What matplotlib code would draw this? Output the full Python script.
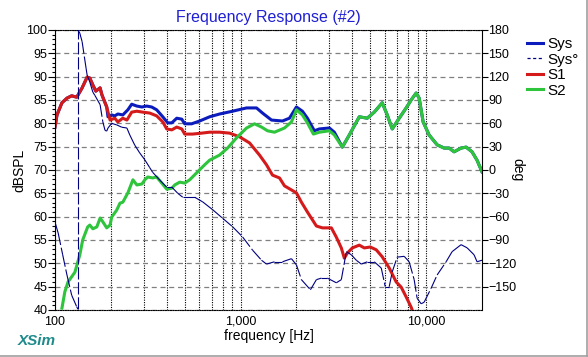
import matplotlib.pyplot as plt
from matplotlib.collections import LineCollection
from matplotlib.lines import Line2D
from matplotlib.ticker import NullFormatter
import numpy as np

plt.rcParams['font.family'] = ['Liberation Sans', 'DejaVu Sans']

# values
sys_freq = [100, 102.5, 109, 116, 123, 131, 140, 149, 154, 160,
            166, 175, 179, 190, 193, 202, 210, 218, 232, 247,
            259, 276, 294, 312, 332, 353, 381, 405, 426, 453,
            482, 500, 545, 602, 681, 771, 906, 1077, 1219, 1313,
            1468, 1682, 1834, 2000, 2154, 2292, 2499, 2659, 3010, 3202,
            3535, 3855, 4362, 4817, 5254, 5800, 6170, 6565, 7161, 7806,
            8305, 8836, 9170, 9636, 10378, 11459, 12499, 13296, 14146, 15428,
            16413, 17674, 18808, 20000]
sys_db = [79.2, 81.8, 84.4, 85.4, 85.9, 85.6, 87.6, 89.9, 89.7, 88.2,
          86.9, 87.6, 86.1, 83.5, 81.4, 81.8, 81.6, 82.0, 81.8, 82.9,
          84.1, 83.7, 83.5, 83.7, 83.5, 82.9, 81.4, 80.1, 80.1, 81.1,
          80.9, 79.9, 79.9, 80.5, 81.4, 82.0, 82.6, 83.3, 83.3, 82.2,
          80.7, 80.5, 81.1, 83.5, 82.6, 81.1, 78.4, 78.8, 79.0, 78.1,
          74.9, 77.5, 81.4, 81.1, 82.4, 84.4, 81.8, 78.8, 81.1, 83.3,
          85.0, 86.5, 85.4, 80.3, 77.5, 75.4, 74.7, 74.7, 73.9, 74.7,
          74.9, 73.9, 72.1, 69.6]

s1_freq = [100, 102.5, 109, 116, 123, 131, 140, 149, 154, 160,
           166, 175, 179, 190, 198, 210, 218, 232, 244, 259,
           276, 297, 324, 353, 381, 400, 426, 453, 482, 500,
           552, 617, 681, 771, 873, 988, 1118, 1265, 1380, 1486,
           1621, 1725, 2000, 2128, 2292, 2562, 2761, 3085, 3282, 3491,
           3624, 3761, 4001, 4362, 4642, 4999, 5385, 5800, 6325, 6899,
           7338, 7806, 8305, 8409]
s1_db = [79.2, 81.8, 84.4, 85.4, 85.9, 85.6, 87.6, 89.9, 89.7, 88.2,
         86.9, 87.6, 86.1, 83.5, 80.7, 81.1, 80.3, 81.1, 80.7, 82.4,
         82.6, 82.4, 82.2, 81.6, 80.3, 78.8, 78.6, 79.2, 78.8, 77.7,
         77.7, 77.9, 78.1, 78.1, 77.9, 77.1, 75.8, 73.2, 71.1, 68.9,
         68.3, 66.6, 65.1, 63.1, 61.0, 58.0, 57.6, 57.6, 55.6, 53.3,
         51.1, 52.2, 53.3, 53.9, 53.3, 53.5, 52.9, 51.4, 49.0, 46.0,
         44.9, 42.8, 40.6, 40.0]

s2_freq = [109, 113, 117.5, 128, 136, 141, 150, 154, 160, 168,
           175, 181, 190, 198, 202, 215, 224, 232, 247, 263,
           276, 294, 305, 316, 336, 353, 376, 400, 426, 442,
           470, 500, 532, 580, 640, 681, 771, 851, 952, 1077,
           1189, 1297, 1397, 1523, 1725, 1880, 2000, 2154, 2292, 2469,
           2659, 3010, 3202, 3535, 3855, 4362, 4817, 5254, 5800, 6170,
           6565, 7161, 7806, 8305, 8836, 9170, 9636, 10378, 11459, 12499,
           13296, 14146, 15428, 16413, 17674, 18808, 20000]
s2_db = [40.4, 43.9, 46.0, 48.1, 51.8, 55.0, 57.8, 58.2, 57.4, 57.8,
         59.7, 58.9, 57.6, 58.2, 59.9, 61.4, 62.9, 63.1, 65.1, 67.9,
         66.8, 67.0, 67.9, 68.5, 68.3, 68.5, 67.2, 65.9, 66.1, 66.8,
         67.4, 67.2, 67.9, 69.4, 71.1, 72.1, 73.2, 74.7, 76.9, 79.0,
         79.9, 79.2, 78.4, 78.1, 79.0, 80.3, 82.9, 81.8, 80.1, 77.7,
         78.1, 78.4, 77.5, 74.9, 77.5, 81.4, 81.1, 82.4, 84.4, 81.8,
         78.8, 81.1, 83.3, 85.0, 86.5, 85.4, 80.3, 77.5, 75.4, 74.7,
         74.7, 73.9, 74.7, 74.9, 73.9, 72.1, 69.6]

# system phase, wraps from -180 to +180 near 133 Hz
phase_freq = [100, 104, 110, 116, 123, 131, 133, 133, 136, 140,
              147, 149, 154, 160, 164, 175, 181, 186, 190, 193,
              202, 215, 229, 244, 253, 269, 286, 305, 324, 336,
              367, 400, 426, 459, 488, 566, 625, 707, 800, 906,
              1025, 1160, 1297, 1380, 1523, 1682, 1880, 2000, 2128, 2379,
              2562, 2726, 2936, 3282, 3491, 3715, 3952, 4204, 4472, 4817,
              5254, 5730, 6020, 6325, 6565, 6986, 7615, 8101, 8620, 8944,
              9400, 9754, 10638, 11459, 12812, 13800, 15428, 16614, 18124, 18808,
              20000]
phase_deg = [-67, -81, -109, -135, -161, -176, -179, 180, 176, 165,
             131, 122, 113, 100, 96, 84, 62, 51, 50, 54,
             60, 58, 55, 54, 45, 32, 22, 13, 3, -3,
             -13, -22, -22, -30, -35, -35, -41, -51, -62, -73,
             -86, -103, -116, -121, -118, -118, -114, -122, -141, -154,
             -141, -139, -139, -145, -141, -105, -109, -116, -121, -118,
             -118, -126, -150, -150, -131, -112, -111, -118, -141, -165,
             -172, -170, -152, -135, -118, -105, -96, -100, -109, -118,
             -116]

x_ticks = [100, 1000, 10000]
x_tick_labels = ['100', '1,000', '10,000']
x_grid = [k * 10 ** d for d in (2, 3) for k in range(2, 10)]
db_ticks = list(range(40, 101, 5))
deg_ticks = list(range(-150, 181, 30))

c_sys = '#0c1cbc'
c_phase = '#000080'
c_s1 = '#d41a1a'
c_s2 = '#2ec43c'

fig = plt.figure(figsize=(5.88, 3.57), dpi=100)
ax = fig.add_axes([55 / 588, 1 - 310 / 357, 427 / 588, 280 / 357])

ax.plot(sys_freq, sys_db, color=c_sys, lw=2.2, solid_joinstyle='round')
ax.plot(s1_freq, s1_db, color=c_s1, lw=2.2, solid_joinstyle='round')
ax.plot(s2_freq, s2_db, color=c_s2, lw=2.2, solid_joinstyle='round')

ax.set_xscale('log')
ax.set_xlim(100, 20000)
ax.set_ylim(40, 100)
ax.set_xticks(x_ticks)
ax.set_xticklabels(x_tick_labels)
ax.set_xticks(x_grid, minor=True)
ax.xaxis.set_minor_formatter(NullFormatter())
ax.set_yticks(db_ticks)
ax.set_yticks(range(40, 101), minor=True)
ax.tick_params(axis='x', which='both', length=0, pad=4, labelsize=9)
ax.tick_params(axis='y', which='major', length=5, width=0.8, pad=0.5, labelsize=9)
ax.tick_params(axis='y', which='minor', length=2.5, width=0.8)

ax.grid(axis='y', which='major', color='#808080', lw=0.9, ls=(0, (4, 3)))
ax.grid(axis='x', which='both', color='black', lw=0.8, ls=(0, (1, 1.2)))

for side in ('top', 'bottom'):
    ax.spines[side].set_linestyle((0, (1, 1.2)))
ax.spines['right'].set_visible(False)

ax.set_title('Frequency Response (#2)', color='#1f1fd4', fontsize=11.5, pad=6)
ax.set_xlabel('frequency [Hz]', fontsize=10)
ax.xaxis.set_label_coords(0.5, -0.068)
ax.set_ylabel('dBSPL', fontsize=10, va='center')
ax.yaxis.set_label_coords(-0.084, 0.5)

# phase on the right axis, each segment dashed on its own like XSim does
ax2 = ax.twinx()
pts = np.column_stack([phase_freq, phase_deg])
segs = np.stack([pts[:-1], pts[1:]], axis=1)
ax2.add_collection(LineCollection(segs, colors=c_phase, linewidths=0.8,
                                  linestyles=[(0, (11, 2.5))]))
ax2.set_ylim(-180, 180)
ax2.set_yticks(deg_ticks)
ax2.tick_params(axis='y', length=4, width=0.8, pad=0.5, labelsize=9)
for side in ('top', 'bottom', 'left'):
    ax2.spines[side].set_visible(False)
ax2.set_ylabel('deg', fontsize=10, rotation=-90, va='center', ha='center')
ax2.yaxis.set_label_coords(1.082, 0.5)

handles = [Line2D([], [], color=c_sys, lw=2.2, label='Sys'),
           Line2D([], [], color=c_phase, lw=0.9, ls=(0, (2.5, 2)), label='Sys°'),
           Line2D([], [], color=c_s1, lw=2.2, label='S1'),
           Line2D([], [], color=c_s2, lw=2.2, label='S2')]
fig.legend(handles=handles, loc='upper left', bbox_to_anchor=(527 / 588, 1 - 37 / 357),
           frameon=False, fontsize=11, handlelength=1.05, handletextpad=0.3,
           labelspacing=0.1, borderpad=0, borderaxespad=0)

fig.text(18 / 588, 1 - 341 / 357, 'XSim', color='#1e8a8a', fontsize=11,
         fontweight='bold', style='italic', va='center')

# grey window edge at right and bottom
fig.add_artist(Line2D([586.5 / 588, 586.5 / 588], [1 - 355.5 / 357, 1], color='#a0a0a0',
                      lw=1.2, transform=fig.transFigure))
fig.add_artist(Line2D([0, 586.5 / 588], [1 - 355.5 / 357, 1 - 355.5 / 357], color='#a0a0a0',
                      lw=1.2, transform=fig.transFigure))

fig.savefig('out.png', dpi=100)
